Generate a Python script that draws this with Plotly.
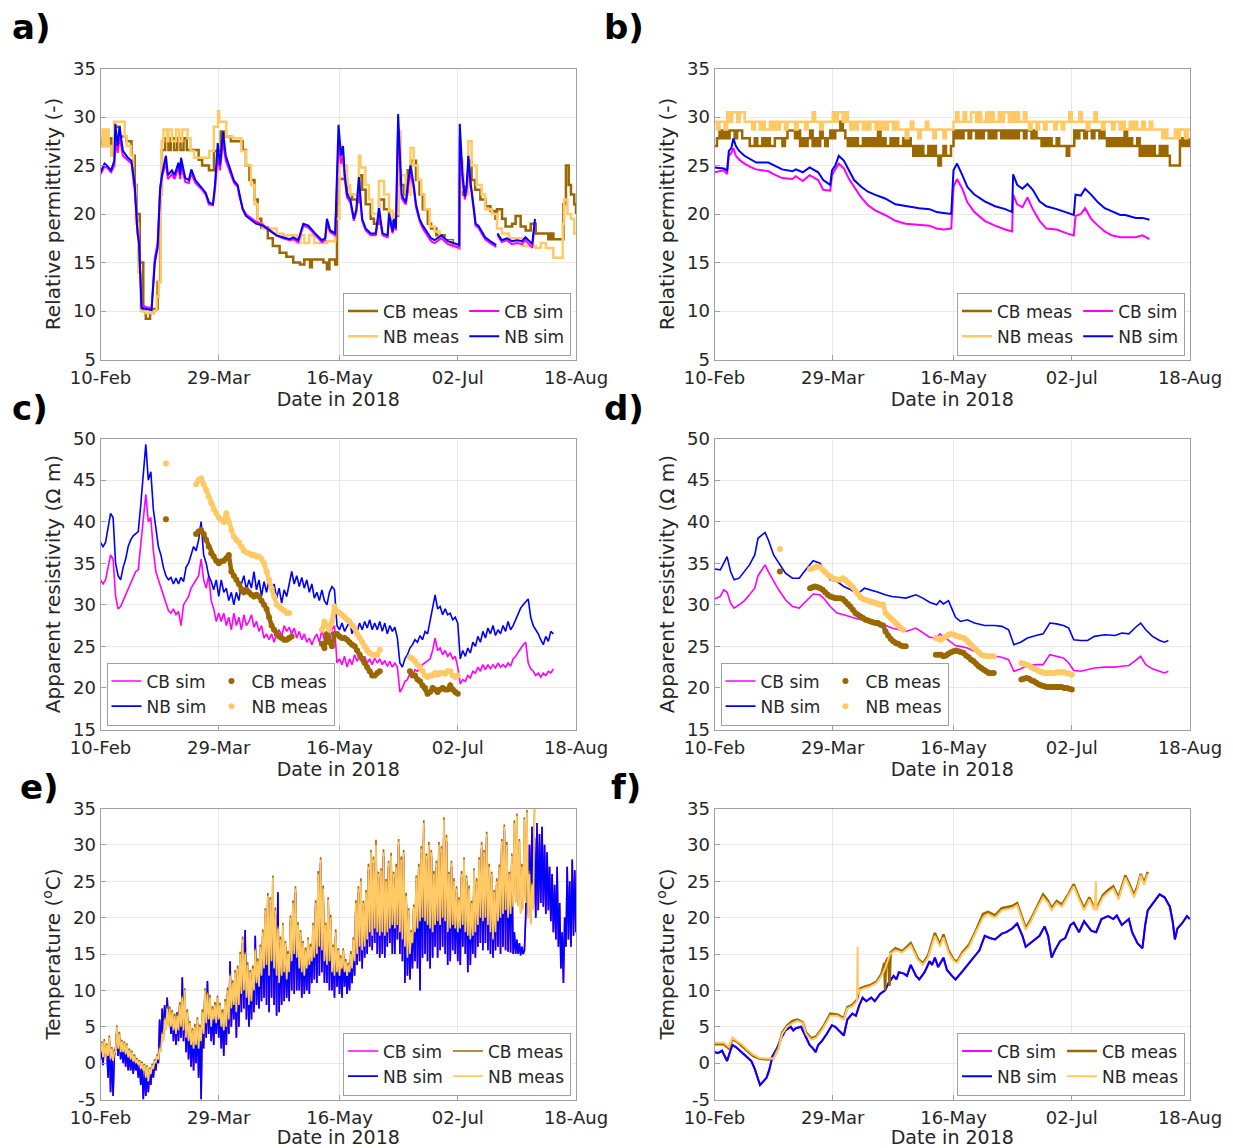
import numpy as np
import pandas as pd
import plotly.graph_objects as go

START = pd.Timestamp("2018-02-10")
END = pd.Timestamp("2018-08-18")
TICK_DATES = ["2018-02-10", "2018-03-29", "2018-05-16", "2018-07-02", "2018-08-18"]
TICK_LABELS = ["10-Feb", "29-Mar", "16-May", "02-Jul", "18-Aug"]

CB_MEAS_COLOR = "#9a6700"
NB_MEAS_COLOR = "#ffc966"
CB_SIM_COLOR = "#ff00ff"
NB_SIM_COLOR = "#0000ff"

# ---------------- a) relative permittivity, CB / NB (days since 10-Feb) ----------------
A_SIM_DAYS = [0, 1.6, 2.5, 4.2, 5.5, 5.9, 6.8, 7.6, 8.9, 10.9,
              12.3, 13.6, 14.7, 15.3, 16.3, 18.3, 20.3, 21.6, 22.7, 23.7,
              24.4, 26, 26.8, 28.4, 29.4, 31, 31.7, 32, 33.7, 35.1,
              36.1, 37.7, 40.4, 41.8, 43.1, 44.7, 45.5, 46.6, 47.5, 48.7,
              49.8, 51.1, 53.1, 54.5, 55.2, 56.5, 57.8, 59.2, 61.8, 64.5,
              67.2, 69.9, 72.5, 75.2, 76.6, 78.6, 80.6, 82.6, 85.3, 88,
              89.3, 90, 91.3, 93.3, 94.6, 95.6, 96.4, 97.1, 98, 99.3,
              100.7, 101.7, 102.7, 104, 105.4, 107.4, 109.4, 110.7, 112.1, 114.1,
              114.7, 116.1, 116.7, 117.4, 118.3, 119.7, 120.7, 121.4, 122.1, 123.2,
              124.5, 125.4, 126.8, 128.1, 130.1, 131.4, 132.8, 134.1, 135.5, 138.1,
              140.8, 142.6, 142.8, 143.9, 144.8, 145.5, 146.2, 147.2, 148.2, 149.1,
              150.2, 151.5, 152.9, 154.9, 157.3, 157.5, 157.8, 159.5, 161.5, 163.5,
              165.6, 167.6, 168.9, 171.6, 172.7]
A_NB_SIM = [24.3, 25.2, 25.0, 24.5, 25.5, 29.3, 27.0, 29.0, 26.5, 25.8,
            25.5, 23.0, 18.0, 17.0, 10.3, 10.2, 10.1, 15.0, 16.5, 22.5,
            24.0, 26.0, 24.0, 24.5, 24.0, 25.3, 24.0, 25.8, 23.7, 23.5,
            24.6, 23.5, 22.7, 22.2, 21.2, 21.0, 23.0, 27.3, 25.0, 28.5,
            26.0, 25.0, 23.4, 23.0, 22.0, 20.5, 19.8, 19.5, 19.0, 18.8,
            18.3, 17.8, 17.6, 17.4, 17.6, 17.3, 19.0, 18.8, 18.0, 17.3,
            17.5, 19.5, 18.3, 18.0, 29.2, 26.0, 27.0, 24.0, 22.0, 21.5,
            19.5, 20.5, 23.8, 19.5, 18.5, 18.0, 18.0, 20.6, 18.0, 17.8,
            20.0, 18.2, 19.5, 18.5, 30.3, 22.0, 21.5, 21.2, 23.0, 25.0,
            23.0, 21.0, 19.5, 18.8, 18.0, 17.5, 17.3, 17.5, 17.8, 17.2,
            17.0, 16.8, 29.3, 24.0, 21.8, 22.8, 26.0, 23.0, 21.0, 19.0,
            18.8, 18.2, 17.6, 17.2, 16.8, None, 18.0, 17.3, 17.5, 17.2,
            17.3, 17.2, 17.6, 16.9, 19.5]
A_CB_SIM = [24.1, 24.9, 24.8, 24.3, 25.0, 27.5, 26.3, 28.0, 26.0, 25.5,
            25.2, 22.5, 18.5, 17.5, 10.6, 10.4, 10.3, 15.5, 17.0, 22.8,
            23.8, 25.3, 23.6, 24.1, 23.6, 24.8, 23.6, 25.2, 23.3, 23.2,
            24.2, 23.2, 22.5, 22.0, 21.0, 20.9, 22.5, 26.0, 24.5, 27.5,
            25.5, 24.6, 23.2, 22.8, 21.8, 20.6, 20.0, 19.7, 19.2, 18.9,
            18.4, 17.8, 17.5, 17.3, 17.4, 17.1, 18.8, 18.6, 17.8, 17.1,
            17.3, 19.0, 18.1, 17.8, 27.5, 25.2, 26.0, 23.5, 21.7, 21.2,
            19.3, 20.2, 23.0, 19.3, 18.3, 17.8, 17.8, 20.0, 17.8, 17.6,
            19.6, 18.0, 19.2, 18.3, 29.0, 21.6, 21.2, 21.0, 22.6, 24.3,
            22.6, 20.7, 19.3, 18.5, 17.7, 17.2, 17.0, 17.2, 17.5, 16.9,
            16.7, 16.5, 28.0, 23.5, 21.5, 22.3, 25.0, 22.6, 20.7, 18.8,
            18.6, 18.0, 17.4, 17.0, 16.6, None, 17.8, 17.1, 17.3, 16.9,
            17.0, 16.9, 17.3, 16.5, 19.2]
# measured permittivity is quantised, kept as (day, value) steps
A_NB_MEAS = [(0, 27.0), (0.8, 28.7), (1.5, 27.0), (2.3, 28.7), (3.2, 27.0), (4.3, 26.0), (5.4, 29.5),
             (9.6, 28.0), (10.4, 27.0), (12.0, 26.0), (13.0, 23.0), (14.0, 19.0), (15.0, 14.0),
             (16.0, 10.0), (18.0, 9.8), (21.0, 10.0), (22.3, 11.5), (23.2, 13.0), (23.9, 22.0),
             (24.3, 27.5), (25.0, 28.7), (26.4, 27.5), (27.0, 28.7), (28.4, 27.5), (30.0, 28.7),
             (31.3, 27.5), (32.5, 28.7), (34.6, 27.8), (35.8, 26.5), (37.2, 25.8), (43.2, 26.5),
             (45.0, 29.0), (46.7, 30.6), (47.2, 29.5), (50.0, 28.0), (52.5, 27.8), (56.0, 26.5),
             (57.8, 25.0), (59.8, 23.0), (61.2, 21.0), (62.5, 19.0), (64.5, 18.5), (70.0, 18.0),
             (72.5, 17.8), (78.0, 17.0), (79.5, 17.8), (81.0, 17.0), (83.0, 17.8), (85.0, 17.0),
             (90.0, 17.2), (93.3, 19.5), (95.0, 27.0), (96.0, 25.0), (98.0, 23.0), (99.3, 22.0),
             (102.7, 26.0), (103.3, 24.8), (105.3, 23.0), (106.7, 21.5), (108.0, 20.0), (110.7, 23.4),
             (112.7, 22.0), (114.7, 20.3), (116.1, 19.5), (117.1, 20.0), (118.3, 28.5), (119.3, 24.0),
             (121.3, 22.0), (123.2, 26.8), (124.5, 25.0), (126.1, 23.5), (127.5, 22.0), (128.8, 20.5),
             (130.8, 18.7), (132.8, 18.2), (134.8, 17.5), (136.8, 17.2), (139.5, 16.7), (142.0, 16.4),
             (142.8, 25.5), (144.1, 22.5), (144.8, 22.0), (146.2, 27.5), (147.5, 25.0), (149.5, 23.0),
             (151.5, 22.0), (152.9, 20.5), (155.6, 20.0), (157.6, 18.5), (159.6, 18.0), (162.3, 17.5),
             (167.6, 16.7), (173.0, 16.5), (175.0, 17.0), (177.0, 16.5), (180.0, 15.5), (183.7, 19.0),
             (184.3, 21.5), (185.6, 20.0), (187.0, 19.5), (188.3, 18.0), (189.0, 18.0)]
A_CB_MEAS = [(0, 27.8), (0.7, 27.0), (1.4, 27.8), (2.2, 27.0), (3.0, 27.8), (4.3, 26.0), (5.5, 29.0),
             (7.6, 28.0), (10.3, 27.5), (12.3, 26.0), (13.6, 23.0), (14.3, 20.0), (15.6, 15.0),
             (17.0, 10.0), (18.0, 9.2), (19.7, 9.8), (21.0, 10.2), (22.7, 13.0), (23.7, 22.0),
             (24.4, 26.6), (25.7, 27.8), (27.0, 26.6), (28.0, 27.8), (29.3, 26.6), (30.5, 27.8),
             (31.8, 26.6), (33.0, 27.8), (34.3, 26.6), (39.0, 25.6), (40.4, 25.0), (43.1, 24.5),
             (45.1, 26.5), (47.8, 28.5), (49.2, 28.0), (51.8, 27.5), (56.5, 26.6), (57.8, 25.0),
             (59.2, 23.5), (61.2, 21.5), (62.5, 19.5), (63.9, 18.6), (66.5, 17.5), (68.5, 16.7),
             (71.2, 16.0), (73.9, 15.6), (76.6, 15.0), (79.3, 14.8), (81.0, 15.3), (83.3, 14.5),
             (84.0, 15.3), (88.6, 15.0), (90.0, 14.3), (91.0, 15.3), (93.3, 14.8), (94.0, 21.0),
             (94.6, 23.6), (98.0, 22.0), (100.0, 21.5), (102.0, 21.2), (102.9, 24.0), (104.0, 22.5),
             (105.4, 21.0), (107.4, 19.5), (108.7, 19.0), (110.7, 21.5), (112.7, 20.5), (114.7, 19.5),
             (116.1, 19.0), (116.7, 19.8), (118.3, 24.5), (119.4, 23.0), (120.7, 22.0), (122.1, 24.5),
             (123.4, 25.5), (125.4, 23.5), (126.8, 22.0), (128.1, 20.5), (130.1, 19.0), (131.4, 18.5),
             (133.5, 17.8), (136.8, 17.3), (140.0, 16.7), (142.0, 16.8), (142.8, 24.0), (144.1, 22.0),
             (144.8, 22.8), (146.2, 25.5), (147.5, 23.5), (148.9, 22.5), (151.0, 21.5), (153.0, 20.8),
             (155.0, 20.3), (157.0, 19.5), (157.6, 20.5), (159.6, 19.5), (161.0, 18.7), (163.6, 19.0),
             (165.0, 19.8), (167.0, 18.7), (169.0, 18.3), (171.0, 19.0), (173.0, 18.0), (178.0, 17.4),
             (179.0, 18.0), (180.0, 17.4), (184.0, 21.0), (185.0, 25.0), (186.1, 23.0), (187.0, 22.0),
             (188.3, 21.0), (189.0, 20.0)]

# ---------------- b) relative permittivity, second site ----------------
B_SIM_DAYS = [0, 3.7, 5.0, 5.7, 6.7, 7.5, 8.5, 9.8, 11.9, 14.6,
              16.6, 21.4, 23.5, 26.9, 31.0, 32.3, 35.1, 37.8, 41.2, 43.2,
              46.0, 46.7, 48.0, 49.4, 51.4, 53.5, 55.5, 58.3, 61.0, 63.7,
              67.8, 71.9, 76.0, 81.4, 85.5, 88.3, 91.0, 94.1, 95.0, 96.4,
              98.5, 100.5, 103.3, 107.4, 111.5, 115.6, 118.3, 118.7, 120.3, 122.4,
              124.4, 126.5, 129.2, 131.9, 136.0, 140.1, 142.8, 143.5, 145.6, 147.3,
              149.7, 152.4, 155.1, 157.8, 161.3, 163.3, 167.4, 170.1, 172.9]
B_NB_SIM = [24.8, 24.7, 24.5, 26.5, 26.8, 27.8, 27.0, 26.5, 26.0, 25.6,
            25.3, 25.3, 25.0, 24.6, 24.4, 24.6, 24.3, 24.8, 24.3, 23.5,
            23.0, 24.5, 25.0, 26.0, 25.5, 24.5, 23.5, 22.8, 22.3, 22.0,
            21.6, 21.0, 20.8, 20.6, 20.5, 20.2, 20.1, 20.0, 24.5, 25.2,
            24.0, 22.8, 22.0, 21.3, 20.8, 20.5, 20.2, 24.1, 23.0, 22.6,
            23.1, 22.5, 21.3, 20.8, 20.5, 20.1, 19.9, 22.0, 21.9, 22.6,
            22.0, 21.2, 20.6, 20.3, 19.9, 19.9, 19.6, 19.6, 19.4]
B_CB_SIM = [24.3, 24.5, 24.1, 26.0, 26.3, 26.8, 26.0, 25.6, 25.2, 24.8,
            24.6, 24.4, 24.1, 23.7, 23.6, 23.9, 23.4, 24.0, 23.5, 22.5,
            22.4, 24.0, 24.6, 25.2, 24.7, 23.6, 22.8, 21.7, 20.9, 20.4,
            19.9, 19.3, 19.0, 18.9, 18.8, 18.5, 18.4, 18.5, 22.8, 23.6,
            22.6, 21.2, 20.2, 19.3, 18.8, 18.4, 18.2, 22.0, 21.0, 20.7,
            21.7, 20.5, 19.3, 18.5, 18.4, 18.0, 17.8, 19.8, 20.0, 20.6,
            19.5, 18.8, 18.2, 17.8, 17.6, 17.6, 17.6, 17.8, 17.4]
# daily readings from day 0 to day 189
B_CB_MEAS = [27.0, 27.8, 28.6, 27.8,
             28.6, 27.8, 28.6, 28.6, 27.8, 28.6, 28.6,
             27.8, 27.8, 27.8, 27.0,
             27.0, 27.8, 27.0, 27.0, 27.8, 27.0, 27.8, 27.0, 27.0, 27.8, 27.8,
             27.8, 27.0, 27.8, 28.6,
             28.6, 28.6, 27.8, 28.6,
             27.0, 27.8, 27.0, 27.8, 28.6, 27.0, 27.8, 27.0, 28.6, 27.8, 27.0, 27.8,
             28.6, 27.8, 28.6, 28.6, 29.5, 28.6, 27.8,
             27.0, 27.8, 27.0, 27.8, 27.0, 27.0, 27.8, 27.0, 27.8, 27.0, 27.8, 27.0, 28.6,
             27.0, 27.8, 27.0, 27.0, 27.8, 27.0, 27.8, 27.0, 27.0, 27.8, 27.0, 27.8, 27.0,
             26.0, 27.0, 26.0, 27.0, 26.0, 26.0, 27.0, 26.0, 27.0, 26.0, 25.0, 26.0, 27.0, 26.0, 26.0, 27.0,
             28.6, 27.8, 28.6, 27.8, 28.6,
             28.6, 27.8, 28.6, 28.6, 27.8, 28.6, 27.8, 28.6, 28.6, 27.8, 28.6, 27.8, 28.6, 28.6, 27.8,
             28.6, 27.8, 28.6, 27.8,
             28.6, 27.8, 28.6, 28.6, 27.8, 28.6, 28.6, 27.8, 28.6, 27.8, 27.8,
             27.0, 27.8, 27.0, 27.8, 27.0, 27.0, 27.8, 27.0, 27.0, 27.0,
             26.0, 27.0, 27.0,
             28.6, 27.8, 28.6, 28.6, 27.8, 28.6, 28.6, 27.8, 28.6, 28.6, 27.8, 28.6, 27.8,
             27.0, 27.8, 27.0, 27.8, 27.0, 27.8, 27.0, 28.6, 27.0, 27.8, 27.0, 27.0, 27.8,
             26.0, 27.0, 26.0, 27.0, 26.0, 27.0, 26.0, 26.0, 27.0, 26.0, 27.0, 26.0,
             25.0, 25.0, 25.0, 25.0,
             27.8, 27.0, 27.8, 27.0, 27.8]
B_NB_MEAS = [29.5, 28.7, 29.5, 29.5, 28.7,
             30.5, 29.5, 30.5, 30.5, 29.5, 30.5, 30.5, 29.5,
             29.5, 29.5, 28.7, 29.5, 29.5,
             28.7, 29.5, 28.7, 28.7, 29.5, 28.7, 29.5, 28.7,
             29.5, 29.5, 28.7, 29.5, 29.5, 29.5, 28.7, 29.5, 29.5, 29.5, 28.7, 29.5, 29.5, 30.5,
             29.5, 29.5, 28.7, 29.5, 29.5, 29.5, 29.5,
             30.5, 29.5, 30.5, 30.5, 29.5, 30.5,
             29.5, 28.7, 29.5, 28.7, 29.5, 29.5, 28.7, 29.5, 28.7, 29.5, 29.5, 28.7, 29.5, 28.7,
             29.5, 28.7, 29.5, 29.5, 28.7, 29.5, 28.7,
             28.7, 28.7, 27.8, 28.7, 29.5, 28.7, 28.7, 27.8, 28.7, 28.7, 29.5, 28.7, 28.7, 27.8,
             28.7, 28.7, 28.7, 27.8, 28.7, 28.7, 28.7,
             29.5, 30.5, 29.5, 29.5, 30.5, 29.5, 29.5, 30.5, 30.5, 29.5, 30.5, 29.5, 29.5, 30.5,
             29.5, 30.5, 29.5, 29.5, 30.5, 29.5,
             30.5, 30.5, 29.5, 30.5, 29.5, 30.5, 29.5, 29.5, 30.5, 29.5, 28.7, 29.5, 29.5, 28.7,
             29.5, 29.5, 28.7, 29.5, 29.5, 29.5,
             28.7, 29.5, 29.5, 28.7, 29.5, 29.5, 30.5, 29.5,
             29.5, 29.5, 30.5, 29.5, 29.5, 28.7, 29.5, 29.5, 30.5, 29.5, 29.5, 28.7, 29.5, 29.5,
             29.5, 28.7, 29.5, 29.5,
             28.7, 29.5, 28.7, 28.7, 29.5, 28.7, 29.5, 28.7, 28.7, 29.5, 28.7, 28.7, 29.5, 28.7,
             28.7, 28.7,
             28.7, 27.8, 28.7, 27.8, 27.8, 27.8, 28.7, 27.8, 28.7, 28.7, 27.8, 28.7, 28.7]

# ---------------- c) apparent resistivity, CB / NB (daily, day 0..180) ----------------
C_NB_SIM = [37.5, 37.0, 37.5, 39.5, 41.0, 40.5, 35.0, 33.5, 33.0, 34.5,
            35.5, 37.0, 37.8, 38.3, 38.5, 38.8, 42.0, 46.0, 49.3, 45.0,
            46.0, 41.5, 39.0, 37.0, 36.0, 34.5, 33.5, 33.0, 33.3, 32.5,
            33.2, 32.5, 33.3, 32.8, 34.5, 35.0, 36.0, 37.0, 36.5, 37.8,
            40.0, 36.0, 35.0, 33.5, 32.8, 31.8, 33.0, 31.0, 33.0, 31.5,
            32.0, 30.5, 31.5, 30.0, 31.5, 30.5, 32.5, 33.5, 31.8, 33.0,
            32.0, 34.0, 31.8, 33.0, 31.0, 32.8, 31.5, 33.0, 31.5, 32.5,
            30.8, 32.0, 30.2, 31.8, 31.0, 32.5, 34.0, 32.5, 33.5, 32.2,
            33.3, 32.0, 33.0, 31.5, 32.5, 30.8, 31.5, 30.5, 31.8, 30.5,
            30.0, 31.5, 32.2, 31.8, 27.5, 27.0, 27.8, 26.8, 27.5, 28.0,
            26.5, 27.5, 26.8, 27.8, 27.0, 28.0, 27.2, 28.2, 27.0, 27.8,
            27.0, 28.0, 26.8, 27.8, 26.5, 27.5, 26.8, 27.3, 26.0, 23.0,
            22.5, 23.5, 24.0, 24.8, 25.2, 25.8, 25.5, 26.3, 25.8, 26.8,
            26.5, 28.0, 29.5, 31.2, 29.5, 29.8, 28.8, 29.5, 28.8, 29.0,
            28.2, 28.5, 27.8, 23.5, 24.5, 23.8, 24.8, 24.2, 25.5, 25.0,
            26.2, 25.5, 26.8, 26.0, 27.2, 26.5, 27.5, 26.3, 27.0, 26.5,
            27.5, 26.8, 28.0, 27.0, 27.5, 28.2, 29.0, 29.6, 30.0, 30.4,
            30.7, 28.5, 27.5, 27.0, 26.5, 25.8, 25.2, 26.2, 25.6, 26.8,
            26.5]
C_CB_SIM = [33.0, 32.5, 33.0, 34.5, 36.0, 35.5, 31.0, 29.5, 29.8, 30.5,
            31.2, 32.0, 32.8, 33.5, 34.0, 34.2, 37.0, 40.0, 43.3, 40.0,
            40.5, 36.5, 34.0, 33.0, 32.0, 31.0, 30.0, 29.3, 29.0, 29.5,
            28.8, 29.2, 27.5, 30.0, 30.5, 31.0, 32.0, 32.5, 33.0, 33.5,
            35.5, 33.0, 32.0, 33.5, 30.5, 29.5, 28.0, 29.0, 28.0, 29.0,
            27.5, 28.5, 27.0, 29.0, 27.5, 28.5, 27.0, 28.8, 27.5, 28.0,
            28.8, 27.3, 28.0, 26.8, 27.5, 26.0, 26.5, 25.8, 26.5, 25.5,
            26.5, 27.0, 26.2, 27.5, 26.8, 27.3, 26.5, 27.2, 26.0, 26.8,
            25.8, 26.5, 25.5, 26.0, 25.2, 26.0, 26.5, 25.5, 27.0, 25.8,
            26.5, 25.5, 27.0, 27.5, 23.0, 23.5, 22.8, 23.8, 22.5, 23.5,
            22.8, 24.0, 23.2, 24.0, 23.0, 23.8, 23.0, 23.5, 22.8, 23.6,
            23.0, 23.5, 22.8, 23.3, 22.6, 23.2, 22.5, 23.0, 22.5, 19.5,
            20.0, 20.8, 21.0, 21.8, 21.5, 22.2, 22.0, 22.5, 22.8, 23.0,
            23.2, 23.5, 24.5, 26.0, 24.5, 24.8, 24.0, 24.5, 23.8, 24.2,
            23.5, 23.8, 22.5, 20.5, 21.0, 20.8, 21.5, 21.2, 22.0, 21.8,
            22.5, 22.0, 22.8, 22.2, 22.8, 22.3, 22.8, 22.4, 23.0, 22.5,
            22.8, 22.5, 23.0, 22.6, 23.5, 23.8, 24.3, 24.8, 25.2, 25.5,
            23.0, 22.3, 22.0, 21.5, 21.8, 21.3, 21.8, 21.5, 22.0, 21.8,
            22.3]
# measured resistivity: (first day, daily values) segments
C_CB_MEAS = [(26, [40.3]),
             (38, [38.5, 38.8, 39.0, 38.5, 37.8, 37.0, 36.2, 35.8, 35.3, 35.0,
                   35.2, 35.3, 35.6, 36.0, 34.0, 33.5, 33.0, 32.5, 31.8, 31.5,
                   31.8, 31.5, 31.2, 31.0, 31.2, 31.0, 30.5, 30.0, 29.5, 28.5,
                   27.5, 27.0, 26.5, 26.2, 26.0, 25.8, 25.8, 26.0, 26.2]),
             (88, [25.3, 24.8, 26.5, 25.5, 25.0, 26.5, 26.5, 26.2, 26.0, 26.0,
                   25.8, 25.5, 25.2, 25.0, 24.5, 24.0, 23.5, 23.0, 22.5, 22.0,
                   21.5, 21.5, 21.8, 22.0]),
             (123, [22.0, 21.5, 21.5, 21.0, 20.8, 20.3, 20.0, 19.3, 19.5, 20.0,
                    19.8, 19.5, 19.8, 20.0, 19.8, 19.8, 20.3, 19.8, 19.5, 19.3])]
C_NB_MEAS = [(26, [47.0]),
             (38, [44.5, 45.0, 45.2, 44.5, 43.8, 43.0, 42.2, 41.5, 41.0, 40.5,
                   40.2, 40.0, 41.0, 40.0, 39.0, 38.2, 37.8, 37.5, 37.0, 36.5,
                   36.3, 36.2, 36.0, 36.0, 35.8, 35.8, 35.5, 35.0, 34.0, 33.0,
                   32.0, 31.0, 30.0, 29.8, 29.5, 29.3, 29.0, 29.0]),
             (88, [27.0, 28.0, 27.5, 27.0, 28.0, 29.8, 29.2, 29.0, 28.8, 28.5,
                   28.2, 28.0, 27.5, 27.2, 26.5, 26.0, 25.5, 25.0, 24.5, 24.2,
                   24.0, 24.0, 24.0, 24.6]),
             (123, [23.7, 23.5, 23.2, 22.8, 22.5, 22.0, 21.5, 21.3, 21.5, 21.5,
                    21.8, 21.6, 21.8, 21.8, 21.7, 22.0, 22.0, 21.5, 21.3, 21.5])]

# ---------------- d) apparent resistivity, second site ----------------
D_SIM_DAYS = [0, 2.3, 3.7, 5.0, 6.4, 7.8, 9.8, 11.9, 13.9, 16.0,
              17.3, 20.1, 21.4, 23.5, 25.5, 28.2, 31.0, 33.7, 35.7, 39.2,
              41.9, 43.9, 46.0, 48.7, 51.4, 54.2, 56.9, 59.6, 62.3, 65.1,
              67.8, 70.5, 73.3, 76.0, 80.1, 82.8, 85.5, 88.3, 89.6, 91.0,
              93.0, 94.4, 95.8, 97.8, 100.5, 103.3, 107.4, 111.5, 114.2, 116.9,
              119.0, 121.7, 124.4, 127.8, 130.6, 133.3, 136.0, 138.7, 140.8, 142.8,
              145.6, 148.3, 151.0, 155.1, 159.2, 161.9, 164.7, 167.4, 169.4, 171.4,
              174.1, 176.9, 178.9, 180.4]
D_NB_SIM = [34.3, 34.2, 35.0, 35.8, 34.0, 33.0, 33.2, 34.0, 34.8, 36.0,
            38.0, 38.7, 37.8, 36.0, 35.0, 33.8, 33.2, 33.2, 34.0, 35.3,
            35.0, 34.0, 33.0, 32.8, 32.2, 31.8, 31.3, 32.0, 31.8, 31.5,
            31.2, 31.0, 30.9, 30.8, 31.2, 30.8, 30.3, 30.0, 30.5, 30.1,
            30.5, 29.5, 28.5, 28.0, 28.2, 27.8, 27.5, 27.5, 27.4, 27.0,
            25.2, 25.5, 26.0, 26.3, 26.5, 27.8, 27.7, 27.5, 27.2, 25.8,
            25.7, 25.7, 26.2, 26.4, 26.3, 26.6, 26.5, 27.3, 27.8, 27.0,
            26.2, 25.7, 25.5, 25.7]
D_CB_SIM = [30.7, 31.0, 31.8, 31.5, 30.2, 29.6, 30.0, 30.5, 31.2, 32.0,
            33.5, 34.8, 34.0, 32.8, 31.8, 30.6, 29.8, 29.6, 30.2, 31.3,
            31.2, 30.6, 29.8, 29.0, 28.8, 28.5, 28.3, 28.2, 28.1, 27.9,
            27.5, 27.2, 27.0, 26.8, 27.2, 26.7, 26.1, 26.0, 26.5, 26.2,
            25.7, 25.4, 25.1, 25.0, 24.8, 24.4, 24.0, 23.8, 23.7, 23.4,
            22.0, 22.3, 22.7, 22.8, 22.8, 24.0, 23.8, 23.6, 23.0, 22.1,
            22.0, 22.2, 22.4, 22.5, 22.5, 22.6, 22.7, 23.3, 23.8, 22.8,
            22.3, 22.0, 21.8, 22.0]
D_CB_MEAS = [(26, [34.0]),
             (38, [32.0, 32.1, 32.2, 32.1, 32.0, 31.8, 31.5, 31.2, 31.0, 30.9,
                   30.8, 30.8, 30.8, 30.7, 30.4, 30.1, 29.8, 29.4, 29.0, 28.8,
                   28.6, 28.4, 28.2, 28.1, 28.0, 27.9, 27.8, 27.8, 27.6, 27.5,
                   26.8, 26.3, 25.9, 25.6, 25.4, 25.3, 25.1, 25.0, 25.0]),
             (88, [24.0, 24.0, 24.0, 23.8, 23.9, 24.1, 24.3, 24.4, 24.5, 24.4,
                   24.3, 24.2, 23.9, 23.7, 23.4, 23.2, 22.9, 22.6, 22.4, 22.2,
                   22.0, 21.8, 21.8, 21.8]),
             (122, [21.0, 21.1, 21.2, 21.1, 20.9, 20.8, 20.6, 20.4, 20.3, 20.2,
                    20.1, 20.1, 20.1, 20.1, 20.1, 20.1, 20.1, 20.0, 20.0, 19.9,
                    19.8])]
D_NB_MEAS = [(26, [36.7]),
             (38, [34.3, 34.4, 34.5, 34.6, 34.5, 34.2, 33.9, 33.6, 33.4, 33.2,
                   33.1, 33.0, 33.0, 33.2, 33.0, 32.7, 32.4, 32.1, 31.7, 31.3,
                   30.9, 30.7, 30.6, 30.5, 30.4, 30.3, 30.2, 30.1, 30.0, 30.0,
                   29.0, 28.7, 28.4, 28.1, 27.8, 27.5, 27.2, 27.0]),
             (88, [26.0, 25.9, 25.8, 26.0, 26.2, 26.4, 26.5, 26.4, 26.3, 26.2,
                   26.1, 26.0, 25.8, 25.5, 25.2, 24.9, 24.6, 24.3, 24.0, 23.9,
                   23.8, 23.8, 23.8, 23.8]),
             (122, [23.0, 22.9, 22.8, 22.7, 22.5, 22.3, 22.2, 22.0, 21.9, 21.8,
                    21.8, 21.8, 21.8, 21.8, 21.9, 21.9, 21.9, 21.9, 21.8, 21.7,
                    21.6])]

# ---------------- e) temperature, CB / NB (half-day min/max, from day 0) ----------------
E_NB_MEAS = [1.5, 2.8, 0.8, 3.0, 0.5, 2.5, 1.0, 3.5, 0.5, 2.0,
             0.3, 1.5, 1.5, 5.0, 2.0, 4.0, 1.5, 3.0, 1.5, 2.8,
             1.2, 2.5, 0.8, 1.8, 0.5, 1.5, 0.2, 1.0, 0.0, 0.5,
             -0.2, 0.2, -0.8, 0.0, -1.0, -0.3, -2.0, -0.5, -2.5, -0.8,
             -1.5, -0.3, -0.8, 0.3, 0.0, 1.0, 0.5, 2.0, 1.5, 4.0,
             3.0, 6.0, 4.5, 7.5, 5.0, 7.5, 5.0, 7.0, 4.5, 6.5,
             4.0, 6.5, 4.5, 8.0, 5.0, 9.0, 4.5, 10.0, 3.5, 7.0,
             3.0, 5.5, 2.5, 4.5, 2.0, 5.0, 2.5, 6.0, 2.0, 5.0,
             3.0, 7.0, 4.0, 10.0, 5.5, 9.5, 6.0, 9.0, 5.0, 7.5,
             6.0, 8.0, 5.5, 9.0, 6.0, 8.0, 5.0, 7.0, 4.5, 8.5,
             5.0, 10.0, 6.0, 12.0, 7.5, 11.0, 8.0, 12.5, 7.0, 13.0,
             8.0, 15.0, 9.5, 17.0, 10.0, 15.0, 9.0, 13.5, 8.0, 12.5,
             8.5, 13.0, 10.0, 15.5, 11.0, 14.0, 10.5, 16.0, 12.0, 18.0,
             13.0, 21.0, 13.5, 23.0, 12.0, 22.5, 14.0, 25.5, 13.0, 21.0,
             12.0, 18.5, 11.0, 17.0, 12.0, 19.0, 12.5, 16.5, 11.5, 15.0,
             12.5, 20.0, 14.0, 22.0, 15.0, 24.0, 14.5, 19.0, 13.0, 18.0,
             12.5, 16.5, 12.0, 15.5, 13.0, 17.0, 13.5, 16.0, 14.0, 19.0,
             14.5, 22.0, 15.0, 26.0, 16.0, 28.0, 15.5, 24.0, 14.0, 19.0,
             13.5, 22.5, 14.0, 20.0, 12.5, 16.0, 12.0, 18.0, 12.5, 15.5,
             12.0, 14.5, 13.0, 15.5, 12.5, 14.0, 12.0, 13.5, 12.5, 15.0,
             13.0, 17.0, 14.0, 22.0, 15.0, 24.0, 16.0, 25.0, 15.5, 22.0,
             16.0, 23.5, 17.0, 27.0, 18.0, 29.0, 17.5, 28.0, 18.5, 30.0,
             18.0, 26.0, 17.5, 26.5, 18.0, 29.0, 17.5, 25.0, 18.0, 27.5,
             18.5, 28.5, 19.0, 26.0, 18.5, 27.0, 19.0, 30.5, 18.0, 28.0,
             17.0, 29.0, 16.0, 23.0, 14.5, 21.0, 15.0, 18.0, 16.5, 21.5,
             18.0, 25.5, 18.5, 27.0, 19.5, 29.5, 20.0, 33.0, 19.5, 28.5,
             19.0, 30.0, 18.5, 29.0, 18.0, 26.0, 19.0, 27.5, 19.5, 30.0,
             19.0, 29.5, 20.0, 33.5, 19.5, 31.0, 18.0, 26.0, 18.5, 27.5,
             19.0, 25.0, 18.5, 24.0, 18.0, 22.5, 18.5, 26.0, 19.0, 28.0,
             18.0, 25.5, 17.5, 24.0, 17.0, 22.0, 17.5, 26.5, 18.0, 25.0,
             19.0, 28.0, 20.0, 30.0, 19.5, 29.0, 20.0, 31.5, 19.0, 27.0,
             18.0, 26.0, 17.0, 23.5, 18.0, 25.0, 19.5, 27.0, 20.0, 30.5,
             20.5, 32.5, 21.0, 30.0, 20.0, 26.0, 20.5, 28.5, 21.5, 33.0,
             22.0, 34.0, 21.5, 30.5, 20.5, 27.0, 21.0, 33.5, 22.0, 34.5,
             20.0, 26.0, 19.0, 24.5, 21.0, 35.0]
E_CB_MEAS = [1.7, 3.0, 1.0, 3.3, 0.7, 2.7, 1.2, 3.8, 0.7, 2.2,
             0.5, 1.8, 1.7, 5.2, 2.2, 4.3, 1.7, 3.2, 1.7, 3.0,
             1.4, 2.7, 1.0, 2.0, 0.7, 1.7, 0.4, 1.2, 0.2, 0.7,
             0.0, 0.4, -0.6, 0.2, -0.8, -0.1, -1.8, -0.3, -2.3, -0.6,
             -1.3, -0.1, -0.6, 0.5, 0.2, 1.2, 0.7, 2.2, 1.7, 4.3,
             3.2, 6.3, 4.7, 7.8, 5.2, 7.8, 5.2, 7.3, 4.7, 6.8,
             4.2, 6.8, 4.7, 8.4, 5.2, 9.3, 4.7, 10.3, 3.7, 7.4,
             3.2, 5.8, 2.7, 4.8, 2.2, 5.4, 2.7, 6.3, 2.2, 5.3,
             3.2, 7.4, 4.2, 10.3, 5.7, 9.8, 6.2, 9.4, 5.2, 7.8,
             6.2, 8.4, 5.7, 9.3, 6.2, 8.3, 5.2, 7.4, 4.7, 8.8,
             5.2, 10.4, 6.2, 12.3, 7.7, 11.4, 8.2, 12.8, 7.2, 13.4,
             8.2, 15.3, 9.7, 17.4, 10.2, 15.3, 9.2, 13.9, 8.2, 12.8,
             8.7, 13.4, 10.2, 15.8, 11.2, 14.4, 10.7, 16.3, 12.2, 18.4,
             13.2, 21.3, 13.7, 23.4, 12.2, 22.8, 14.2, 25.8, 13.2, 21.4,
             12.2, 18.8, 11.2, 17.4, 12.2, 19.3, 12.7, 16.8, 11.7, 15.4,
             12.7, 20.3, 14.2, 22.4, 15.2, 24.3, 14.7, 19.4, 13.2, 18.3,
             12.7, 16.8, 12.2, 15.9, 13.2, 17.3, 13.7, 16.4, 14.2, 19.3,
             14.7, 22.4, 15.2, 26.4, 16.2, 28.3, 15.7, 24.4, 14.2, 19.3,
             13.7, 22.8, 14.2, 20.4, 12.7, 16.3, 12.2, 18.4, 12.7, 15.8,
             12.2, 14.8, 13.2, 15.8, 12.7, 14.3, 12.2, 13.8, 12.7, 15.4,
             13.2, 17.3, 14.2, 22.4, 15.2, 24.3, 16.2, 25.4, 15.7, 22.3,
             16.2, 23.8, 17.2, 27.4, 18.2, 29.3, 17.7, 28.4, 18.7, 30.7,
             18.2, 26.3, 17.7, 26.8, 18.2, 29.4, 17.7, 25.3, 18.2, 27.8,
             18.7, 28.9, 19.2, 26.3, 18.7, 27.4, 19.2, 30.8, 18.2, 28.4,
             17.2, 29.3, 16.2, 23.4, 14.7, 21.3, 15.2, 18.3, 16.7, 21.8,
             18.2, 25.8, 18.7, 27.4, 19.7, 29.8, 20.2, 33.4, 19.7, 28.8,
             19.2, 30.4, 18.7, 29.3, 18.2, 26.4, 19.2, 27.8, 19.7, 30.4,
             19.2, 29.8, 20.2, 33.8, 19.7, 31.4, 18.2, 26.3, 18.7, 27.8,
             19.2, 25.4, 18.7, 24.3, 18.2, 22.8, 18.7, 26.4, 19.2, 28.3,
             18.2, 25.8, 17.7, 24.4, 17.2, 22.3, 17.7, 26.8, 18.2, 25.4,
             19.2, 28.3, 20.2, 30.4, 19.7, 29.3, 20.2, 31.8, 19.2, 27.4,
             18.2, 26.3, 17.2, 23.8, 18.2, 25.4, 19.7, 27.3, 20.2, 30.8,
             20.7, 32.8, 21.2, 30.4, 20.2, 26.3, 20.7, 28.8, 21.7, 33.4,
             22.2, 34.3, 21.7, 30.8, 20.7, 27.4, 21.2, 33.8, 22.2, 34.8,
             20.2, 26.4, 19.2, 24.8, 21.2, 35.0]
# the simulated temperature is the same for both boxes, so CB sim lies under NB sim
E_SIM = [0.5, 2.0, -0.3, 2.5, 1.0, 2.0, -2.0, 3.0, -4.0, 1.5,
         -4.5, 1.0, 2.0, 4.5, 1.0, 3.5, 0.5, 2.5, 0.0, 2.0,
         -0.5, 1.8, -1.0, 1.2, -1.0, 1.0, -1.5, 0.5, -1.0, 0.0,
         -2.0, -0.2, -3.0, -0.5, -5.0, -1.0, -4.5, -1.5, -4.0, -1.5,
         -3.0, -0.5, -2.0, 0.0, -1.0, 1.0, 0.0, 6.0, 2.0, 7.5,
         4.0, 8.0, 5.0, 9.0, 5.5, 7.5, 4.0, 7.0, 3.0, 6.5,
         2.5, 7.0, 3.0, 8.0, 3.5, 11.8, 3.0, 9.5, 1.5, 6.5,
         0.5, 5.0, -0.5, 4.0, -1.0, 4.5, 0.0, 5.5, -2.0, 4.5,
         -5.0, 6.5, 2.0, 9.5, 3.5, 11.3, 4.0, 8.5, 3.0, 7.0,
         2.5, 7.5, 4.0, 8.5, 3.5, 7.5, 2.0, 6.5, 1.0, 8.0,
         2.5, 9.5, 4.0, 14.0, 5.0, 10.5, 6.0, 12.0, 3.5, 12.5,
         5.0, 14.5, 7.0, 16.5, 7.5, 18.3, 6.0, 13.0, 5.0, 12.0,
         6.0, 12.5, 7.0, 17.5, 8.0, 13.5, 7.5, 15.5, 8.5, 17.5,
         9.0, 20.5, 8.0, 22.5, 7.0, 22.0, 9.0, 23.0, 8.0, 20.5,
         6.5, 23.5, 7.0, 16.5, 8.0, 18.5, 8.5, 16.0, 9.0, 14.5,
         8.5, 19.5, 10.0, 21.5, 9.5, 23.5, 10.0, 18.5, 10.0, 17.5,
         9.0, 16.0, 9.5, 15.0, 10.0, 16.5, 9.5, 15.5, 11.0, 18.5,
         11.5, 21.5, 11.0, 25.5, 12.0, 27.5, 12.5, 23.5, 11.0, 18.5,
         11.0, 22.0, 10.0, 19.5, 10.0, 15.5, 9.0, 17.5, 10.5, 15.0,
         9.5, 14.0, 9.0, 15.0, 10.5, 13.5, 9.5, 13.0, 10.0, 14.5,
         11.0, 16.5, 12.0, 21.5, 13.5, 23.5, 14.0, 24.5, 13.0, 21.5,
         14.5, 23.0, 15.0, 26.5, 16.0, 28.5, 15.5, 27.5, 16.5, 29.5,
         15.0, 25.5, 14.5, 26.0, 15.0, 28.5, 14.5, 24.5, 16.0, 27.0,
         16.5, 28.0, 15.0, 25.5, 15.0, 26.5, 17.0, 30.0, 15.0, 27.5,
         14.0, 28.5, 11.0, 22.5, 12.0, 20.5, 11.5, 17.5, 13.0, 21.0,
         14.0, 25.0, 13.0, 26.5, 10.0, 29.0, 14.5, 32.5, 15.0, 28.0,
         14.0, 29.5, 13.0, 28.5, 14.5, 25.5, 16.0, 27.0, 14.5, 29.5,
         15.5, 29.0, 16.0, 33.0, 15.0, 30.5, 13.5, 25.5, 14.0, 27.0,
         15.5, 24.5, 15.0, 23.5, 14.0, 22.0, 13.5, 25.5, 16.0, 27.5,
         15.0, 25.0, 12.5, 23.5, 13.5, 21.5, 15.0, 26.0, 14.5, 24.5,
         16.0, 27.5, 16.5, 29.5, 15.5, 28.5, 16.5, 31.0, 15.5, 26.5,
         15.0, 25.5, 14.5, 23.0, 15.5, 24.5, 16.0, 26.5, 15.0, 30.0,
         16.0, 32.0, 15.5, 29.5, 15.3, 25.5, 15.2, 28.0, 15.0, 18.0,
         15.0, 17.0, 15.0, 16.5, 14.8, 16.0, 15.0, 15.5, 20.0, 31.5,
         20.5, 30.0, 21.0, 32.5, 21.5, 31.0, 20.0, 33.0, 21.0, 31.5,
         22.0, 32.5, 21.5, 30.0, 20.5, 29.0, 21.0, 27.0, 19.5, 26.0,
         18.0, 24.5, 17.0, 27.0, 16.0, 22.0, 13.0, 18.0, 11.0, 20.0,
         16.0, 27.0, 17.0, 25.0, 16.0, 28.0, 17.5, 26.5, 18.0, 23.0]

# ---------------- f) temperature, second site (day, value) ----------------
F_SIM = [(0, 1.5), (1.5, 1.4), (3.0, 1.7), (4.4, 0.8), (5.0, 0.3), (6.1, 1.5), (7.1, 2.5), (8.5, 2.2),
         (9.8, 1.8), (11.9, 1.2), (13.2, 0.8), (14.6, 0.3), (16.0, -0.8), (17.3, -2.2), (18.1, -3.0),
         (19.4, -2.5), (20.7, -2.0), (21.7, -1.0), (23.1, 1.0), (24.8, 2.0), (26.6, 3.5), (28.2, 4.5),
         (30.3, 5.0), (31.3, 4.5), (32.3, 4.8), (34.4, 5.0), (35.7, 4.0), (37.8, 2.5), (39.2, 2.0),
         (40.2, 1.5), (41.2, 2.5), (42.6, 3.0), (44.6, 4.0), (46.7, 5.2), (48.0, 5.0), (50.1, 4.3),
         (51.4, 3.8), (52.8, 6.0), (54.8, 6.8), (56.2, 6.5), (57.6, 8.0), (58.9, 9.0), (60.3, 8.5),
         (62.3, 9.0), (63.7, 8.5), (65.8, 9.5), (67.8, 10.0), (69.2, 11.0), (71.2, 12.0), (72.3, 11.5),
         (73.3, 12.5), (75.3, 12.3), (76.5, 12.0), (78.0, 13.5), (80.1, 12.0), (81.4, 11.5), (83.5, 12.5),
         (85.5, 14.0), (86.5, 13.5), (87.6, 14.5), (88.9, 13.2), (91.0, 14.5), (92.4, 12.8), (94.4, 12.0),
         (95.8, 11.5), (97.8, 12.3), (99.9, 13.2), (102.6, 14.5), (105.3, 15.5), (107.4, 17.5),
         (109.4, 17.2), (111.5, 17.0), (114.2, 17.8), (116.0, 18.0), (118.3, 18.5), (120.3, 19.2),
         (122.4, 17.5), (123.7, 16.0), (126.5, 16.8), (129.2, 17.5), (131.2, 18.8), (132.6, 17.5),
         (134.0, 14.5), (135.3, 15.5), (137.4, 16.8), (139.4, 17.2), (141.5, 19.0), (142.8, 19.3),
         (144.9, 18.0), (146.9, 19.5), (149.7, 18.2), (151.7, 18.0), (153.8, 19.8), (156.5, 20.2),
         (158.5, 19.8), (159.9, 20.3), (161.9, 19.0), (163.9, 19.5), (164.7, 19.8), (166.0, 18.0),
         (168.1, 16.5), (170.1, 15.8), (171.2, 19.0), (172.2, 21.0), (174.2, 22.0), (176.9, 23.2),
         (178.9, 22.8), (181.0, 21.5), (182.1, 19.5), (183.0, 17.0), (184.0, 18.5), (185.8, 19.2),
         (187.8, 20.2), (188.9, 19.8)]
F_NB_MEAS = [(0, 2.8), (3.7, 2.8), (5.7, 2.2), (7.1, 3.5), (9.1, 3.0), (11.2, 2.5), (13.2, 1.8),
             (15.3, 1.2), (18.0, 0.7), (21.4, 0.6), (23.5, 0.6), (25.5, 2.0), (26.9, 4.0), (28.9, 5.0),
             (31.0, 5.5), (33.0, 5.8), (35.1, 5.5), (36.4, 4.0), (38.5, 3.2), (40.5, 3.5), (43.2, 4.8),
             (46.0, 6.5), (48.7, 6.5), (51.4, 6.0), (52.8, 7.5), (54.8, 7.8), (56.6, 8.5), (56.9, 16.0),
             (57.0, 9.5), (57.6, 10.0), (59.6, 10.3), (61.7, 10.5), (64.4, 11.0), (66.4, 12.0),
             (67.8, 13.0), (69.8, 15.0), (71.9, 15.5), (74.6, 15.2), (78.0, 16.2), (80.8, 14.2),
             (82.8, 13.5), (84.9, 14.5), (87.6, 17.5), (89.6, 16.0), (91.0, 17.3), (93.0, 15.2),
             (95.1, 14.0), (96.5, 13.8), (98.5, 15.0), (101.2, 16.0), (104.0, 18.0), (106.7, 20.0),
             (108.7, 20.5), (111.5, 20.0), (114.2, 21.0), (118.3, 21.3), (120.3, 21.7), (122.4, 19.5),
             (123.7, 18.3), (125.8, 19.5), (127.8, 21.0), (130.6, 22.8), (132.6, 22.0), (134.0, 21.0),
             (136.0, 22.0), (138.1, 21.5), (140.8, 23.0), (142.8, 24.3), (144.9, 22.5), (146.9, 21.0),
             (149.0, 22.5), (151.0, 21.0), (151.6, 25.0), (151.8, 21.0), (152.6, 21.5), (154.4, 22.8),
             (156.5, 23.5), (158.5, 24.0), (160.6, 22.5), (163.3, 25.5), (165.3, 24.0), (166.7, 22.8),
             (168.1, 24.0), (169.4, 25.8), (170.8, 24.5), (172.2, 26.0)]
F_CB_MEAS = [(0, 2.6), (3.7, 2.6), (5.7, 2.0), (7.1, 3.3), (9.1, 2.9), (11.2, 2.3), (13.2, 1.6),
             (15.3, 1.0), (18.0, 0.6), (21.4, 0.5), (23.5, 0.7), (25.5, 2.2), (26.9, 4.2), (28.9, 5.2),
             (31.0, 5.8), (33.0, 6.0), (35.1, 5.6), (36.4, 4.2), (38.5, 3.4), (40.5, 3.7), (43.2, 5.0),
             (46.0, 6.8), (48.7, 6.7), (51.4, 6.2), (52.8, 7.7), (54.8, 8.0), (56.6, 8.7), (57.6, 10.2),
             (59.6, 10.5), (61.7, 10.7), (64.4, 11.2), (66.4, 12.3), (67.5, 13.8), (67.8, 10.0),
             (68.2, 14.0), (69.0, 14.5), (69.6, 10.6), (70.0, 15.2), (71.9, 15.8), (74.6, 15.4),
             (78.0, 16.5), (80.8, 14.4), (82.8, 13.7), (84.9, 14.8), (87.6, 17.9), (89.6, 16.3),
             (91.0, 17.7), (93.0, 15.5), (95.1, 14.2), (96.5, 14.0), (98.5, 15.2), (101.2, 16.3),
             (104.0, 18.3), (106.7, 20.5), (108.7, 20.8), (111.5, 20.3), (114.2, 21.3), (118.3, 21.6),
             (120.3, 22.0), (122.4, 19.8), (123.7, 18.6), (125.8, 19.8), (127.8, 21.3), (130.6, 23.2),
             (132.6, 22.3), (134.0, 21.3), (136.0, 22.3), (138.1, 21.8), (140.8, 23.3), (142.8, 24.6),
             (144.9, 22.8), (146.9, 21.3), (149.0, 22.8), (151.0, 21.3), (152.6, 21.8), (154.4, 23.1),
             (156.5, 23.8), (158.5, 24.3), (160.6, 22.8), (163.3, 25.8), (165.3, 24.3), (166.7, 23.1),
             (168.1, 24.3), (169.4, 26.0), (170.8, 24.8), (172.2, 26.3)]


def to_dates(days):
    return START + pd.to_timedelta(np.asarray(days, dtype=float), unit="D")


def unzip(pairs):
    days = [p[0] for p in pairs]
    vals = [p[1] for p in pairs]
    return to_dates(days), vals


def segments(segs, gaps=False):
    # daily segments; with gaps=True a None is put between segments so lines break
    days, vals = [], []
    for first, values in segs:
        days += [first + i for i in range(len(values))]
        vals += values
        if gaps:
            days.append(first + len(values) - 0.5)
            vals.append(None)
    return to_dates(days), vals


FONT = "DejaVu Sans"
TEXT = "#262626"
W, H = 1233, 1148
COLS = [(100.5, 576.0), (714.5, 1190.0)]
ROWS = [(68.5, 359.5), (438.5, 729.5), (808.5, 1099.5)]

fig = go.Figure()


def refs(k):
    sfx = "" if k == 0 else str(k + 1)
    return dict(xaxis="x" + sfx, yaxis="y" + sfx, legend="legend" + sfx)


def line(k, x, y, name, color, width, group, shape="linear", legend_on=True):
    fig.add_trace(go.Scatter(
        x=x, y=y, name=name, mode="lines",
        line=dict(color=color, width=width, shape=shape),
        legendgroup=f"{k}{group}", showlegend=legend_on, connectgaps=False,
        **refs(k),
    ))


def dots(k, segs, name, color, group):
    # a thick line under the dots fills the space between daily readings
    x, y = segments(segs, gaps=True)
    line(k, x, y, name, color, 4.5, group, legend_on=False)
    x, y = segments(segs)
    fig.add_trace(go.Scatter(
        x=x, y=y, name=name, mode="markers",
        marker=dict(color=color, size=6, line=dict(width=0)),
        legendgroup=f"{k}{group}", **refs(k),
    ))


# a)
x, y = unzip(A_CB_MEAS)
line(0, x, y, "CB meas", CB_MEAS_COLOR, 2.5, "m", "hv")
x, y = unzip(A_NB_MEAS)
line(0, x, y, "NB meas", NB_MEAS_COLOR, 2.5, "m", "hv")
line(0, to_dates(A_SIM_DAYS), A_CB_SIM, "CB sim", CB_SIM_COLOR, 2, "s")
line(0, to_dates(A_SIM_DAYS), A_NB_SIM, "NB sim", NB_SIM_COLOR, 2, "s")

# b)
line(1, to_dates(np.arange(len(B_CB_MEAS))), B_CB_MEAS, "CB meas", CB_MEAS_COLOR, 2.5, "m", "hv")
line(1, to_dates(np.arange(len(B_NB_MEAS))), B_NB_MEAS, "NB meas", NB_MEAS_COLOR, 2.5, "m", "hv")
line(1, to_dates(B_SIM_DAYS), B_CB_SIM, "CB sim", CB_SIM_COLOR, 2, "s")
line(1, to_dates(B_SIM_DAYS), B_NB_SIM, "NB sim", NB_SIM_COLOR, 2, "s")

# c)
line(2, to_dates(np.arange(len(C_CB_SIM))), C_CB_SIM, "CB sim", CB_SIM_COLOR, 1.6, "s")
line(2, to_dates(np.arange(len(C_NB_SIM))), C_NB_SIM, "NB sim", NB_SIM_COLOR, 1.6, "s")
dots(2, C_CB_MEAS, "CB meas", CB_MEAS_COLOR, "m")
dots(2, C_NB_MEAS, "NB meas", NB_MEAS_COLOR, "m")

# d)
line(3, to_dates(D_SIM_DAYS), D_CB_SIM, "CB sim", CB_SIM_COLOR, 1.6, "s")
line(3, to_dates(D_SIM_DAYS), D_NB_SIM, "NB sim", NB_SIM_COLOR, 1.6, "s")
dots(3, D_CB_MEAS, "CB meas", CB_MEAS_COLOR, "m")
dots(3, D_NB_MEAS, "NB meas", NB_MEAS_COLOR, "m")

# e)
e_sim_x = to_dates(np.arange(len(E_SIM)) * 0.5)
line(4, e_sim_x, E_SIM, "CB sim", CB_SIM_COLOR, 1.6, "s")
line(4, e_sim_x, E_SIM, "NB sim", NB_SIM_COLOR, 1.6, "s")
line(4, to_dates(np.arange(len(E_CB_MEAS)) * 0.5), E_CB_MEAS, "CB meas", CB_MEAS_COLOR, 1.6, "m")
line(4, to_dates(np.arange(len(E_NB_MEAS)) * 0.5), E_NB_MEAS, "NB meas", NB_MEAS_COLOR, 1.6, "m")

# f)
x, y = unzip(F_SIM)
line(5, x, y, "CB sim", CB_SIM_COLOR, 2, "s")
line(5, x, y, "NB sim", NB_SIM_COLOR, 2, "s")
x, y = unzip(F_CB_MEAS)
line(5, x, y, "CB meas", CB_MEAS_COLOR, 2.5, "m")
x, y = unzip(F_NB_MEAS)
line(5, x, y, "NB meas", NB_MEAS_COLOR, 2, "m")

Y_TITLES = ["Relative permittivity (-)", "Relative permittivity (-)",
            "Apparent resistivity (\u03a9 m)", "Apparent resistivity (\u03a9 m)",
            "Temperature (<sup>o</sup>C)", "Temperature (<sup>o</sup>C)"]
Y_RANGES = [[5, 35], [5, 35], [15, 50], [15, 50], [-5, 35], [-5, 35]]
LETTERS = [("a)", 10, 27), ("b)", 602, 27), ("c)", 10, 408),
           ("d)", 602, 408), ("e)", 18, 787), ("f)", 609, 787)]

layout = dict(
    width=W, height=H, autosize=False,
    margin=dict(l=0, r=0, t=0, b=0),
    paper_bgcolor="white", plot_bgcolor="white",
    font=dict(family=FONT, color=TEXT, size=18),
    annotations=[], showlegend=True,
)

for k in range(6):
    row, col = divmod(k, 2)
    left, right = COLS[col]
    top, bottom = ROWS[row]
    sfx = "" if k == 0 else str(k + 1)
    axis_common = dict(
        showgrid=True, gridcolor="#e8e8e8", gridwidth=1,
        showline=True, mirror=True, linecolor="#a0a0a0", linewidth=1,
        ticks="inside", ticklen=5, tickcolor="#a0a0a0",
        tickfont=dict(family=FONT, size=18, color=TEXT),
        zeroline=False, automargin=False,
    )
    yticks = list(range(Y_RANGES[k][0], Y_RANGES[k][1] + 1, 5))
    layout["xaxis" + sfx] = dict(
        axis_common,
        domain=[left / W, right / W], anchor="y" + sfx,
        type="date", range=[START, END],
        tickvals=TICK_DATES, ticktext=TICK_LABELS, ticklabelstandoff=2,
        title=dict(text="Date in 2018", font=dict(family=FONT, size=19, color=TEXT), standoff=0),
    )
    layout["yaxis" + sfx] = dict(
        axis_common,
        domain=[1 - bottom / H, 1 - top / H], anchor="x" + sfx,
        range=Y_RANGES[k], tickvals=yticks, ticktext=[str(v) for v in yticks],
        title=dict(text=Y_TITLES[k], font=dict(family=FONT, size=20, color=TEXT), standoff=6),
    )
    if row == 1:
        lx, xanchor = (left + 6) / W, "left"
    else:
        lx, xanchor = (right - 5) / W, "right"
    layout["legend" + sfx] = dict(
        x=lx, xanchor=xanchor, y=1 - (bottom - 4) / H, yanchor="bottom",
        orientation="h", traceorder="grouped", tracegroupgap=0,
        bgcolor="white", bordercolor="#a0a0a0", borderwidth=1,
        font=dict(family=FONT, size=17, color=TEXT), itemwidth=30,
    )

for text, px, py in LETTERS:
    layout["annotations"].append(dict(
        text=f"<b>{text}</b>", x=px / W, y=1 - py / H, xref="paper", yref="paper",
        xanchor="left", yanchor="middle", showarrow=False,
        font=dict(family=FONT, size=34, color="black"),
    ))

fig.update_layout(layout)

fig.write_html("out.html", config={"displayModeBar": False},
               post_script="document.body.style.margin='0px';")
